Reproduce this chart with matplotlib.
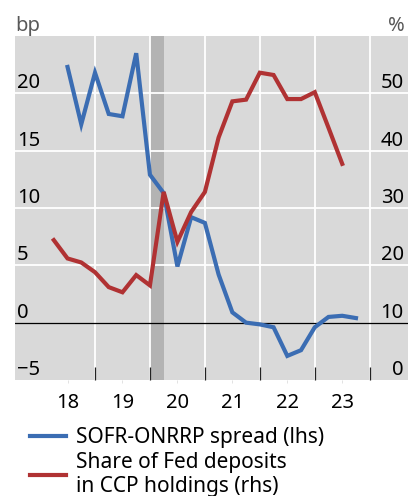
import matplotlib
matplotlib.use('Agg')
import matplotlib.pyplot as plt
from matplotlib.transforms import offset_copy

plt.rcParams['font.family'] = ['Noto Sans', 'DejaVu Sans']

# quarterly observations, decimal years
spread_dates = [2018.5, 2018.75, 2019.0, 2019.25, 2019.5, 2019.75, 2020.0, 2020.25,
                2020.5, 2020.75, 2021.0, 2021.25, 2021.5, 2021.75, 2022.0, 2022.25,
                2022.5, 2022.75, 2023.0, 2023.25, 2023.5, 2023.75]
spread_bp = [22.3, 17.3, 21.8, 18.2, 18.0, 23.5, 12.9, 11.3, 4.9, 9.2, 8.7, 4.2,
             0.9, 0.0, -0.15, -0.4, -2.9, -2.4, -0.4, 0.5, 0.6, 0.4]

share_dates = [2018.25, 2018.5, 2018.75, 2019.0, 2019.25, 2019.5, 2019.75, 2020.0,
               2020.25, 2020.5, 2020.75, 2021.0, 2021.25, 2021.5, 2021.75, 2022.0,
               2022.25, 2022.5, 2022.75, 2023.0, 2023.25, 2023.5]
share_pct = [24.4, 21.2, 20.5, 18.8, 16.2, 15.3, 18.3, 16.5, 32.8, 24.1, 29.3, 32.8,
             42.3, 48.6, 48.9, 53.6, 53.2, 49.0, 49.0, 50.2, 44.0, 37.7]

year_labels = ['18', '19', '20', '21', '22', '23']
left_ticks = [-5, 0, 5, 10, 15, 20]
right_ticks = [0, 10, 20, 30, 40, 50]
shade = (2020.0, 2020.25)

blue = '#3b6db3'
red = '#b03233'

fig = plt.figure(figsize=(4.08, 4.96), dpi=100)
W, H = 408, 496
ax = fig.add_axes([15.5 / W, 1 - 380 / H, 1 - 15.5 / W, (380 - 36) / H])
ax.set_facecolor('#d9d9d9')
ax.set_xlim(2017.553, 2024.697)
ax.set_ylim(-5, 25)

ax.axvspan(*shade, color='#b3b3b3', lw=0, zorder=0.5)
for yr in [2019, 2020, 2021, 2022, 2023, 2024]:
    ax.axvline(yr, color='white', lw=1.3, zorder=0.6)
for v in [5, 10, 15, 20]:
    ax.axhline(v, color='white', lw=1.3, zorder=0.6)
ax.axhline(0, color='black', lw=0.9, zorder=1)

ax.plot(spread_dates, spread_bp, color=blue, lw=3, solid_joinstyle='miter', zorder=2)

ax2 = ax.twinx()
ax2.set_ylim(0, 60)
ax2.plot(share_dates, share_pct, color=red, lw=3, solid_joinstyle='miter', zorder=2)

for a in (ax, ax2):
    for s in a.spines.values():
        s.set_visible(False)
    a.set_yticks([])

ax.set_xticks([2019, 2020, 2021, 2022, 2023, 2024])
ax.set_xticklabels([])
ax.tick_params(axis='x', which='major', direction='in', length=9.5, width=0.9, color='#222222')
ax.set_xticks([2018.5 + i for i in range(len(year_labels))], minor=True)
ax.set_xticklabels(year_labels, minor=True, fontsize=14.5)
ax.tick_params(axis='x', which='minor', direction='out', length=2, width=0.6,
               color='#dddddd', pad=7.5)

tl = offset_copy(ax.get_yaxis_transform(), fig=fig, x=1, y=0, units='points')
for v in left_ticks:
    ax.text(0.0, v, '\u2212' + str(-v) if v < 0 else str(v), transform=tl,
            ha='left', va='bottom', fontsize=14.5)
tr = offset_copy(ax2.get_yaxis_transform(), fig=fig, x=-3, y=0, units='points')
for v in right_ticks:
    ax2.text(1.0, v, str(v), transform=tr, ha='right', va='bottom', fontsize=14.5)

fig.text(15 / W, 1 - 31 / H, 'bp', ha='left', va='baseline', fontsize=14.5, color='#595959')
fig.text(405 / W, 1 - 31 / H, '%', ha='right', va='baseline', fontsize=14.5, color='#595959')

h1, = ax.plot([], [], color=blue, lw=3)
h2, = ax.plot([], [], color=red, lw=3)
fig.legend([h1, h2], ['SOFR-ONRRP spread (lhs)', 'Share of Fed deposits\nin CCP holdings (rhs)'],
           loc='upper left', bbox_to_anchor=(30 / W, 1 - 427 / H), frameon=False,
           fontsize=15, handlelength=1.75, handletextpad=0.45, labelspacing=0.2,
           borderaxespad=0, borderpad=0)

fig.savefig('out.png', dpi=100)
